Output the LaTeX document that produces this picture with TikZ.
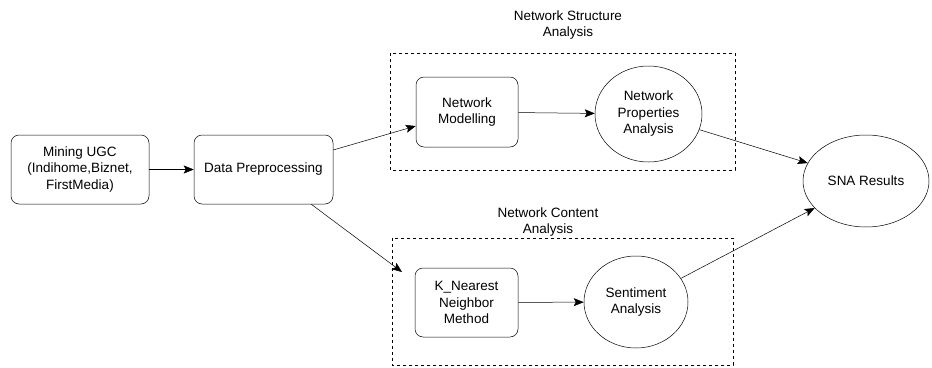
\documentclass[tikz,border=0pt]{standalone}
\usepackage{fontspec}
\setmainfont{Liberation Sans}
\usetikzlibrary{shapes.geometric,arrows.meta}
\tikzset{
  box/.style={draw, rounded corners=8pt, align=center, inner sep=0pt},
  oval/.style={draw, ellipse, align=center, inner sep=0pt},
  group/.style={draw, dash pattern=on 3pt off 3pt},
  flow/.style={-{Stealth[length=10pt,width=8pt,inset=2pt]}}
}
\begin{document}
\begin{tikzpicture}[x=1pt, y=-1pt, font=\fontsize{13.5}{16.5}\selectfont, line width=0.5pt]
    \useasboundingbox (0,0) rectangle (932,367);

    \draw[group] (390,53) rectangle (735,170);
    \draw[group] (392,238) rectangle (733,365);

    \node (structtitle) at (568,25) [align=center] {Network Structure\\Analysis};
    \node (contenttitle) at (548,222) [align=center] {Network Content\\Analysis};

    \node (mining) at (80,169.5) [box, minimum width=138pt, minimum height=69pt] {Mining UGC\\(Indihome,Biznet,\\FirstMedia)};
    \node (prep) at (263.5,169.5) [box, minimum width=139pt, minimum height=69pt] {Data Preprocessing};
    \node (model) at (467,112) [box, minimum width=102pt, minimum height=70pt] {Network\\Modelling};
    \node (props) at (648.5,114) [oval, minimum width=107pt, minimum height=96pt] {Network\\Properties\\Analysis};
    \node (knn) at (466.5,302.5) [box, minimum width=103pt, minimum height=69pt] {K\_Nearest\\Neighbor\\Method};
    \node (senti) at (636,302) [oval, minimum width=104pt, minimum height=92pt] {Sentiment\\Analysis};
    \node (sna) at (866,181) [oval, minimum width=126pt, minimum height=92pt] {SNA Results};

    \coordinate (knnin) at (402,272);

    \draw[flow] (mining) -- (prep);
    \draw[flow] (prep.east |- 0,150) -- (model.west |- 0,126);
    \draw[flow] (prep.south east) ++(-22,0) -- (knnin);
    \draw[flow] (model) -- (props);
    \draw[flow] (knn) -- (senti);
    \draw[flow] (props) -- (sna);
    \draw[flow] (senti) -- (sna);
  \end{tikzpicture}
\end{document}
